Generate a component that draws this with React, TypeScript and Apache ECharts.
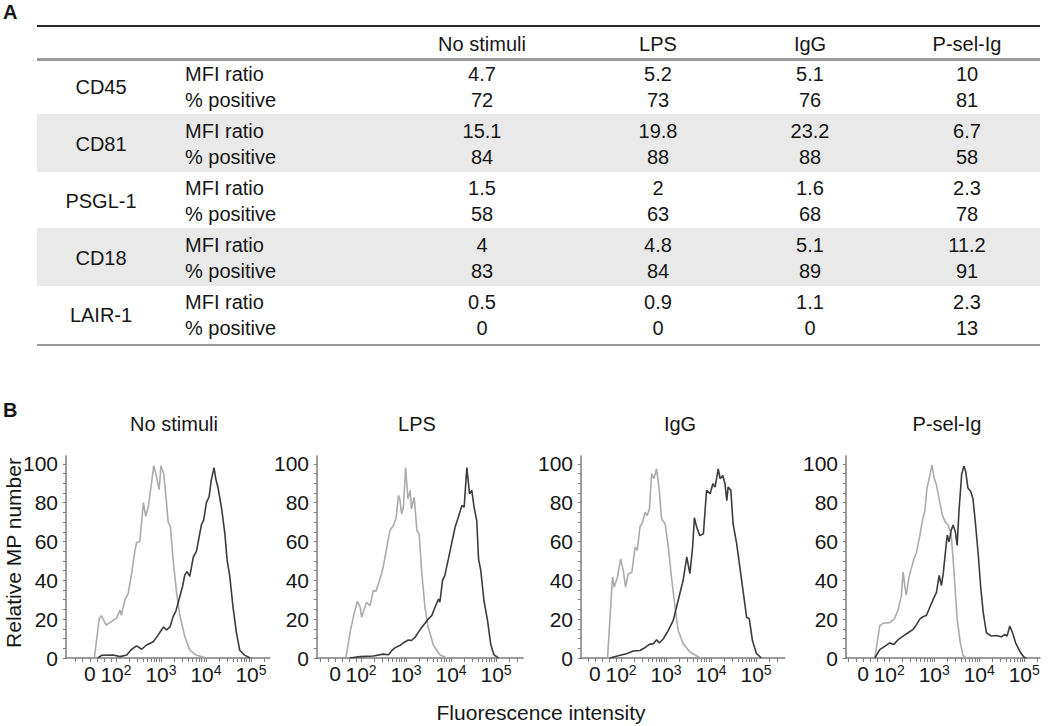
import React, { useEffect, useRef } from "react";
import * as echarts from "echarts";

const FONT = "'Liberation Sans', Arial, Helvetica, sans-serif";

// ---------- Part A: table ----------
const conditions = ["No stimuli", "LPS", "IgG", "P-sel-Ig"];
const markers = ["CD45", "CD81", "PSGL-1", "CD18", "LAIR-1"];
const measures = ["MFI ratio", "% positive"];
const mfiRatio = [
  [4.7, 5.2, 5.1, 10],
  [15.1, 19.8, 23.2, 6.7],
  [1.5, 2, 1.6, 2.3],
  [4, 4.8, 5.1, 11.2],
  [0.5, 0.9, 1.1, 2.3],
];
const pctPositive = [
  [72, 73, 76, 81],
  [84, 88, 88, 58],
  [58, 63, 68, 78],
  [83, 84, 89, 91],
  [0, 0, 0, 13],
];

// ---------- Part B: histograms (x = log10 fluorescence on display scale, "0" shown at 1.42) ----------
const xTickValues = [1.42, 2, 3, 4, 5];
const xTickExponents = [null, 2, 3, 4, 5];
const yTickValues = [0, 20, 40, 60, 80, 100];

const noStimuliIsotype = [
  [1.52, 0], [1.63, 20.5], [1.68, 21.7], [1.78, 17], [1.9, 18.7], [2.01, 20.5], [2.09, 24.7], [2.12, 22],
  [2.2, 30], [2.27, 33], [2.35, 43.6], [2.42, 55], [2.46, 59.5], [2.53, 60], [2.61, 80], [2.66, 73],
  [2.72, 78], [2.79, 90], [2.84, 99], [2.9, 93.5], [2.96, 86.6], [3.0, 99], [3.06, 95], [3.12, 81],
  [3.16, 70], [3.21, 67.7], [3.27, 50.5], [3.35, 33], [3.42, 22], [3.53, 11], [3.64, 4], [3.79, 1.4],
  [3.94, 0.5], [4.01, 0],
];
const noStimuliStained = [
  [1.6, 0], [1.68, 1.4], [1.94, 1.5], [2.09, 0.7], [2.24, 1.5], [2.35, 4.5], [2.46, 6.2], [2.57, 4.5],
  [2.68, 6.7], [2.83, 8.4], [2.94, 11.9], [3.01, 14.4], [3.06, 16], [3.12, 14.4], [3.2, 16], [3.27, 21.3],
  [3.33, 24], [3.4, 30], [3.48, 36.8], [3.53, 42.8], [3.58, 44.5], [3.64, 42], [3.72, 52], [3.79, 55],
  [3.85, 62.5], [3.9, 68.6], [3.95, 71], [4.01, 80], [4.07, 83], [4.12, 91.8], [4.18, 98], [4.22, 92],
  [4.27, 87.5], [4.35, 76.6], [4.42, 64], [4.47, 50.5], [4.53, 42], [4.6, 26.5], [4.68, 12.7], [4.75, 4],
  [4.86, 1.5], [4.98, 0],
];
const lpsIsotype = [
  [1.66, 0], [1.77, 15], [1.86, 24.4], [1.92, 29.2], [1.98, 26], [2.01, 21], [2.06, 24.4], [2.12, 28.7],
  [2.2, 27], [2.27, 34.7], [2.33, 34.4], [2.42, 40.7], [2.49, 46.7], [2.57, 57], [2.64, 65.6], [2.72, 68.2],
  [2.78, 72.5], [2.83, 83.7], [2.86, 82], [2.9, 74.2], [2.94, 77.7], [2.99, 98], [3.04, 82], [3.09, 86.3],
  [3.12, 76.8], [3.18, 82.8], [3.24, 65.6], [3.29, 64], [3.35, 43.3], [3.42, 26], [3.49, 15.8], [3.61, 6.4],
  [3.75, 1.7], [3.9, 0],
];
const lpsStained = [
  [1.75, 0], [1.98, 0.7], [2.27, 1], [2.49, 2], [2.61, 1.7], [2.68, 3.8], [2.75, 5.2], [2.86, 6.4],
  [2.95, 8], [3.05, 9.3], [3.12, 9], [3.2, 10.7], [3.27, 13.2], [3.35, 15.8], [3.42, 17.9], [3.49, 20],
  [3.57, 21.8], [3.64, 26], [3.72, 30.4], [3.75, 28.7], [3.81, 40], [3.86, 42.4], [3.94, 51], [4.01, 58.8],
  [4.09, 67.4], [4.16, 72.5], [4.24, 78.5], [4.29, 77.7], [4.35, 98], [4.41, 84.5], [4.46, 86.3], [4.51, 77.7],
  [4.57, 70.8], [4.61, 51], [4.66, 45], [4.73, 29.6], [4.81, 19.2], [4.88, 7.2], [4.95, 1.7], [5.05, 0],
];
const iggIsotype = [
  [1.7, 0], [1.81, 41.7], [1.85, 36.5], [1.92, 41.7], [1.99, 51], [2.05, 45], [2.1, 36.5], [2.16, 43.4],
  [2.24, 44], [2.31, 57], [2.36, 55.4], [2.42, 67.4], [2.48, 70], [2.53, 75], [2.58, 73.4], [2.63, 76.8],
  [2.68, 94.9], [2.73, 92.3], [2.79, 97.4], [2.85, 86.3], [2.9, 71.7], [2.98, 69], [3.05, 57], [3.12, 41.7],
  [3.2, 26.2], [3.27, 14.2], [3.38, 7.4], [3.53, 3.1], [3.72, 0.5], [3.79, 0],
];
const iggStained = [
  [1.75, 0], [1.98, 1.4], [2.12, 2.2], [2.27, 3.6], [2.42, 3.9], [2.53, 5.3], [2.63, 7], [2.72, 7.4],
  [2.79, 9.4], [2.85, 7.7], [2.94, 9.9], [3.05, 14.2], [3.16, 19.4], [3.27, 29.7], [3.38, 40], [3.46, 52],
  [3.53, 43.4], [3.59, 57], [3.63, 72.2], [3.68, 67.4], [3.75, 63], [3.83, 64], [3.9, 86.3], [3.98, 84.6],
  [4.04, 89.7], [4.09, 88], [4.16, 97.4], [4.2, 92.3], [4.26, 94], [4.31, 89.7], [4.35, 81], [4.38, 88],
  [4.44, 86.3], [4.49, 69], [4.57, 58.8], [4.64, 46.8], [4.72, 33], [4.79, 21], [4.85, 20.2], [4.92, 9],
  [5.01, 2.2], [5.12, 0],
];
const pselIsotype = [
  [1.68, 0], [1.79, 16.5], [1.86, 17.9], [2.01, 18.2], [2.12, 20.3], [2.2, 25], [2.27, 32], [2.31, 44.2],
  [2.35, 36.4], [2.38, 32.4], [2.44, 41.6], [2.49, 46], [2.55, 51], [2.61, 54.6], [2.68, 63], [2.74, 71],
  [2.79, 75.4], [2.84, 87.5], [2.9, 93.6], [2.95, 99.3], [3.0, 92.7], [3.05, 89], [3.12, 80.6], [3.18, 73.7],
  [3.24, 70.2], [3.31, 68.5], [3.38, 63], [3.42, 51], [3.46, 37.3], [3.51, 20], [3.58, 7.8], [3.64, 1.2],
  [3.72, 0],
];
const pselStained = [
  [1.68, 0], [1.79, 4.3], [1.9, 6], [2.01, 7.8], [2.1, 6.9], [2.2, 9.5], [2.31, 11.3], [2.42, 13],
  [2.53, 14.7], [2.61, 17.3], [2.68, 20], [2.75, 21.3], [2.83, 22], [2.9, 26], [2.98, 30.3], [3.05, 33.8],
  [3.11, 42.5], [3.16, 37.3], [3.2, 43.3], [3.25, 54.6], [3.29, 63.3], [3.33, 59.8], [3.38, 65.9], [3.42, 68.5],
  [3.47, 65], [3.51, 58], [3.55, 75.4], [3.61, 94.5], [3.66, 98.8], [3.7, 96], [3.75, 87.5], [3.81, 85.8],
  [3.86, 82.3], [3.92, 68.5], [3.98, 52.9], [4.03, 37.3], [4.09, 23.4], [4.16, 13], [4.27, 11.3], [4.38, 11.6],
  [4.49, 10.9], [4.57, 12.1], [4.62, 11.3], [4.68, 16.5], [4.74, 13], [4.81, 7.8], [4.9, 3.5], [4.99, 0.5],
  [5.05, 0],
];

const panelIsotype = [noStimuliIsotype, lpsIsotype, iggIsotype, pselIsotype];
const panelStained = [noStimuliStained, lpsStained, iggStained, pselStained];

// layout (pixels)
const PX_PER_DECADE = 45;
const panelLayout = [
  { left: 66, xMin: 0.89, xMax: 5.42, titleX: 174 },
  { left: 317, xMin: 1.02, xMax: 5.6, titleX: 417 },
  { left: 581, xMin: 1.11, xMax: 5.64, titleX: 680 },
  { left: 846, xMin: 1.04, xMax: 5.35, titleX: 947 },
];
const GRID_TOP = 456;
const GRID_HEIGHT = 202;
const Y_MAX = 104;

function minorXTicks(): number[] {
  const out: number[] = [1.1, 1.26, 1.42, 1.58, 1.74, 1.9];
  for (let d = 2; d <= 5; d++) {
    for (let m = 1; m <= 9; m++) {
      const v = d + Math.log10(m);
      if (v <= 5.6) out.push(+v.toFixed(4));
    }
  }
  return out;
}
function minorYTicks(): number[] {
  const out: number[] = [];
  for (let v = 0; v <= 100; v += 5) out.push(v);
  return out;
}

function buildOption() {
  const textColor = "#161616";
  const graphics: any[] = [];

  // ---- Table ----
  graphics.push({
    type: "text", x: 3, y: 12,
    style: { text: "A", fontSize: 20, fontWeight: "bold", fontFamily: FONT, fill: textColor, align: "left", verticalAlign: "middle" },
  });
  const colX = [482, 658, 810, 967];
  markers.forEach((_, g) => {
    const top = 60 + 57 * g;
    if (g % 2 === 1) {
      graphics.push({ type: "rect", shape: { x: 37, y: top - 3, width: 1003, height: 58 }, style: { fill: "#e9e9e9" } });
    }
  });
  graphics.push({ type: "line", shape: { x1: 37, y1: 26, x2: 1040, y2: 26 }, style: { stroke: "#2a2a2a", lineWidth: 2 } });
  graphics.push({ type: "line", shape: { x1: 37, y1: 59.5, x2: 1040, y2: 59.5 }, style: { stroke: "#9a9a9a", lineWidth: 3 } });
  graphics.push({ type: "line", shape: { x1: 37, y1: 345, x2: 1040, y2: 345 }, style: { stroke: "#9a9a9a", lineWidth: 2 } });
  conditions.forEach((c, i) => {
    graphics.push({
      type: "text", x: colX[i], y: 44,
      style: { text: c, fontSize: 20, fontFamily: FONT, fill: textColor, align: "center", verticalAlign: "middle" },
    });
  });
  markers.forEach((m, g) => {
    const top = 60 + 57 * g;
    graphics.push({
      type: "text", x: 101, y: top + 27,
      style: { text: m, fontSize: 20, fontFamily: FONT, fill: textColor, align: "center", verticalAlign: "middle" },
    });
    const rowsY = [top + 14, top + 40];
    measures.forEach((ms, r) => {
      graphics.push({
        type: "text", x: 185, y: rowsY[r],
        style: { text: ms, fontSize: 20, fontFamily: FONT, fill: textColor, align: "left", verticalAlign: "middle" },
      });
      const vals = r === 0 ? mfiRatio[g] : pctPositive[g];
      vals.forEach((v, i) => {
        graphics.push({
          type: "text", x: colX[i], y: rowsY[r],
          style: { text: String(v), fontSize: 20, fontFamily: FONT, fill: textColor, align: "center", verticalAlign: "middle" },
        });
      });
    });
  });

  // ---- Part B labels ----
  graphics.push({
    type: "text", x: 3, y: 410,
    style: { text: "B", fontSize: 20, fontWeight: "bold", fontFamily: FONT, fill: textColor, align: "left", verticalAlign: "middle" },
  });
  panelLayout.forEach((p, i) => {
    graphics.push({
      type: "text", x: p.titleX, y: 424,
      style: { text: conditions[i], fontSize: 20, fontFamily: FONT, fill: textColor, align: "center", verticalAlign: "middle" },
    });
  });
  graphics.push({
    type: "text", x: 13, y: 553, rotation: Math.PI / 2,
    style: { text: "Relative MP number", fontSize: 21, fontFamily: FONT, fill: textColor, align: "center", verticalAlign: "middle" },
  });
  graphics.push({
    type: "text", x: 541, y: 712,
    style: { text: "Fluorescence intensity", fontSize: 21, fontFamily: FONT, fill: textColor, align: "center", verticalAlign: "middle" },
  });

  const axisColor = "#7c7c7c";
  const grids = panelLayout.map((p) => ({
    left: p.left, top: GRID_TOP, width: (p.xMax - p.xMin) * PX_PER_DECADE, height: GRID_HEIGHT, containLabel: false,
  }));
  const xAxes = panelLayout.map((p, i) => ({
    type: "value", gridIndex: i, min: p.xMin, max: p.xMax,
    axisLine: { show: true, onZero: false, lineStyle: { color: axisColor, width: 1.5 } },
    axisTick: { show: true, length: 4, lineStyle: { color: axisColor, width: 1 }, customValues: minorXTicks().filter((v) => v >= p.xMin && v <= p.xMax) },
    splitLine: { show: false },
    axisLabel: {
      customValues: xTickValues,
      margin: 5,
      formatter: (v: number) => {
        const k = xTickValues.findIndex((t) => Math.abs(t - v) < 1e-6);
        const e = k >= 0 ? xTickExponents[k] : null;
        return e === null ? "{b|0}" : `{b|10}{s|${e}}`;
      },
      rich: {
        b: { fontSize: 21, fontFamily: FONT, color: textColor },
        s: { fontSize: 14, fontFamily: FONT, color: textColor, verticalAlign: "top", padding: [0, 0, 9, 0] },
      },
    },
  }));
  const yAxes = panelLayout.map((_, i) => ({
    type: "value", gridIndex: i, min: 0, max: Y_MAX,
    axisLine: { show: true, lineStyle: { color: axisColor, width: 1.5 } },
    axisTick: { show: true, length: 3, lineStyle: { color: axisColor, width: 1 }, customValues: minorYTicks() },
    splitLine: { show: false },
    axisLabel: { customValues: yTickValues, margin: 8, fontSize: 21, fontFamily: FONT, color: textColor },
  }));
  const series: any[] = [];
  panelLayout.forEach((_, i) => {
    series.push({
      type: "line", xAxisIndex: i, yAxisIndex: i, data: panelIsotype[i], showSymbol: false, symbol: "none",
      lineStyle: { color: "#ababab", width: 1.6 }, silent: true,
    });
    series.push({
      type: "line", xAxisIndex: i, yAxisIndex: i, data: panelStained[i], showSymbol: false, symbol: "none",
      lineStyle: { color: "#3c3c3c", width: 1.6 }, silent: true,
    });
  });

  return {
    animation: false,
    backgroundColor: "#ffffff",
    grid: grids,
    xAxis: xAxes,
    yAxis: yAxes,
    series,
    graphic: { elements: graphics },
  };
}

export default function App() {
  const ref = useRef<HTMLDivElement>(null);
  useEffect(() => {
    if (!ref.current) return;
    const chart = echarts.init(ref.current, undefined, { renderer: "svg" });
    chart.setOption(buildOption() as any);
    return () => chart.dispose();
  }, []);
  return (
    <div
      ref={ref}
      style={{ position: "fixed", left: 0, top: 0, width: 1050, height: 726, background: "#fff" }}
    />
  );
}
